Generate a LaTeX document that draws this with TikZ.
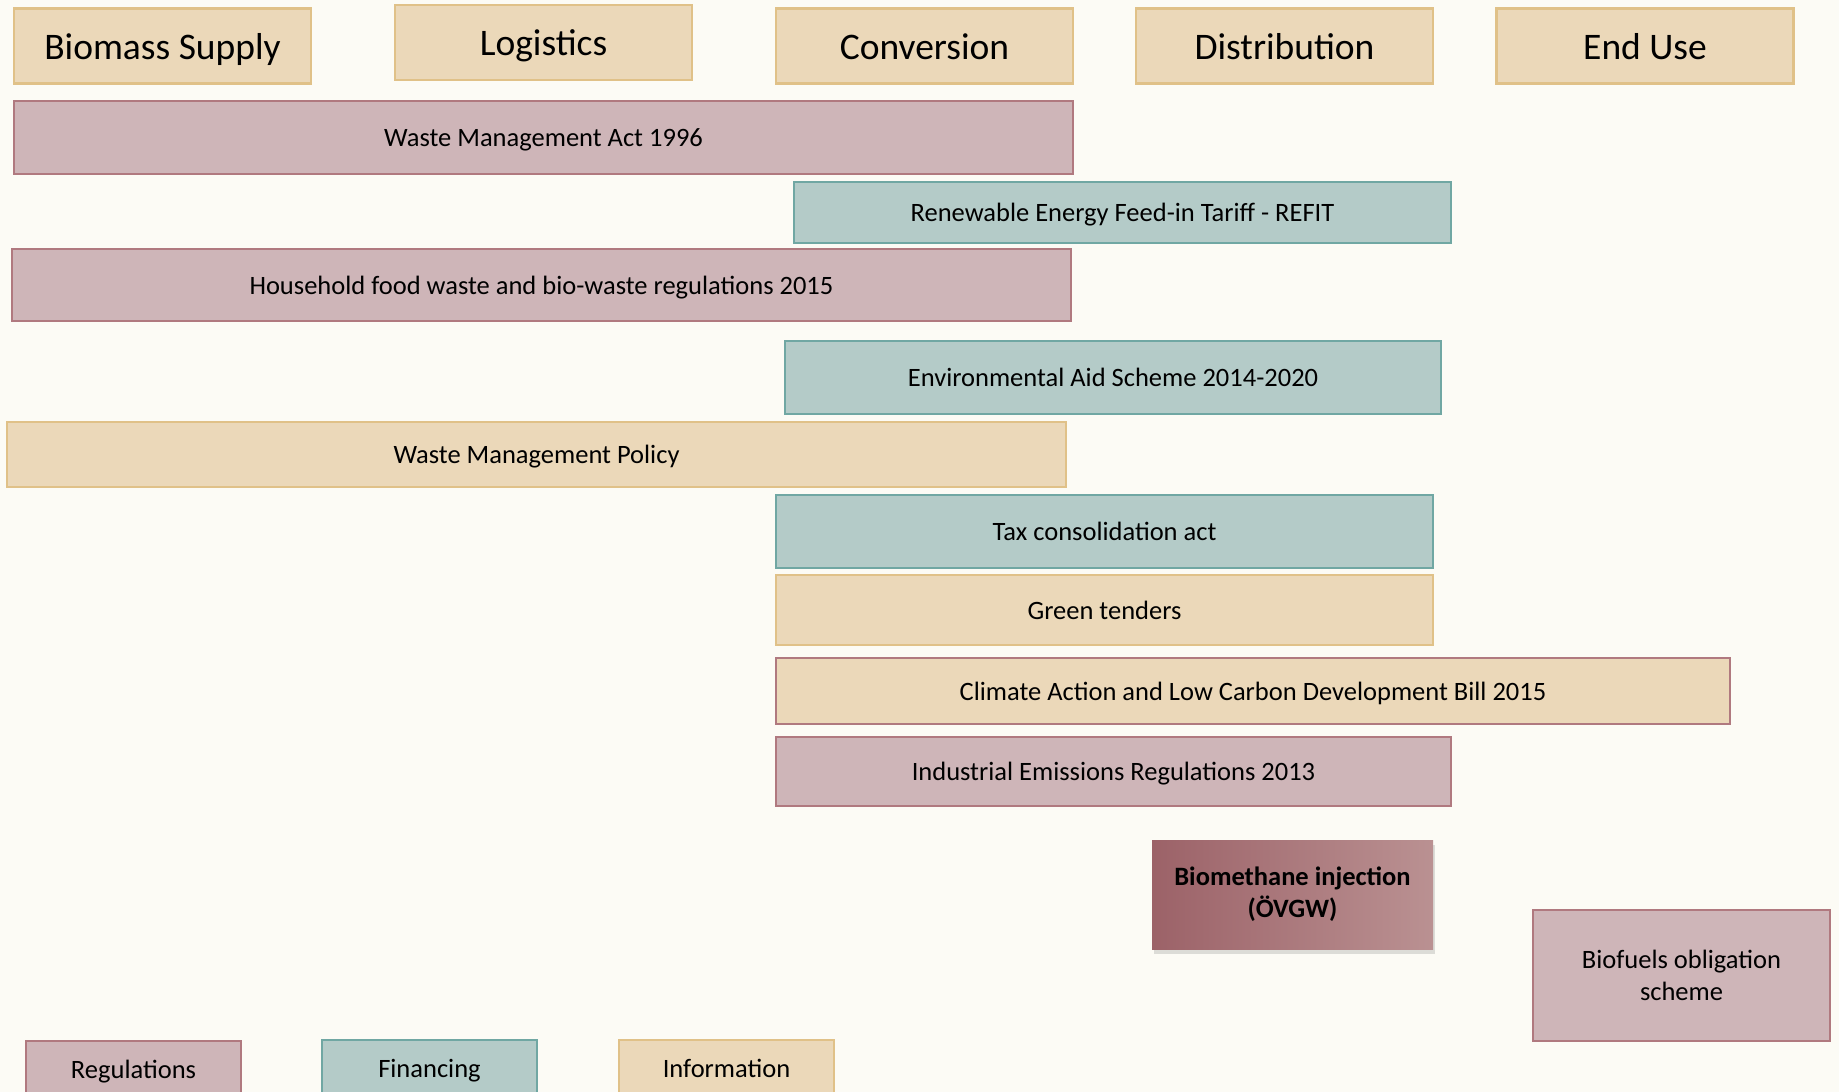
\documentclass[tikz,border=0pt]{standalone}
\usepackage{fontspec}
\setmainfont{Carlito}
\usetikzlibrary{shadows}

\definecolor{bgcream}{HTML}{FCFBF5}
\definecolor{infofill}{HTML}{EBD8B9}
\definecolor{infoline}{HTML}{E0C188}
\definecolor{regfill}{HTML}{CEB5B8}
\definecolor{regline}{HTML}{B0797F}
\definecolor{finfill}{HTML}{B4CBC8}
\definecolor{finline}{HTML}{70A7A3}
\definecolor{bmleft}{HTML}{9C6268}
\definecolor{bmright}{HTML}{BA9192}

\tikzset{
  box/.style={draw, rectangle, inner sep=0pt, line width=2.5pt, align=center},
  regbox/.style={box, fill=regfill, draw=regline},
  finbox/.style={box, fill=finfill, draw=finline},
  infobox/.style={box, fill=infofill, draw=infoline},
  boxsize/.style 2 args={minimum width=#1pt, minimum height=#2pt},
  hdrbox/.style={infobox, boxsize={297}{75}, font=\fontsize{37.5}{44}\selectfont,
                 text height=32.5pt, text depth=6pt},
  twoline/.style={font=\fontsize{26.5}{32}\selectfont},
  bartext/.style={twoline, text height=22pt, text depth=3.5pt},
  keytext/.style={bartext, boxsize={215}{56}},
}

\begin{document}
\begin{tikzpicture}[x=1pt,y=1pt,yscale=-1]
    % background, sets picture at 1839 x 1092
    \path[use as bounding box, fill=bgcream] (0,0) rectangle (1839,1092);
    \clip (0,0) rectangle (1839,1092);

    % Header Nodes
    \node[hdrbox] (supply) at (162.5,45.8) {Biomass Supply};
    \node[hdrbox] (logistics) at (543.5,42.3) {Logistics};
    \node[hdrbox] (conversion) at (924.5,45.8) {Conversion};
    \node[hdrbox] (distribution) at (1284.5,45.8) {Distribution};
    \node[hdrbox] (enduse) at (1645,45.8) {End Use};

    % Policy Bars
    \node[regbox, bartext, boxsize={1059}{73}] (wmact) at (543.5,137.5) {Waste Management Act 1996};
    \node[finbox, bartext, boxsize={657}{61}] (refit) at (1122.5,212.5) {Renewable Energy Feed-in Tariff - REFIT};
    \node[regbox, bartext, boxsize={1059}{72}] (foodwaste) at (541.5,285) {Household food waste and bio-waste regulations 2015};
    \node[finbox, bartext, boxsize={656}{73}] (envaid) at (1113,377.5) {Environmental Aid Scheme 2014-2020};
    \node[infobox, bartext, boxsize={1059}{65}] (wmpolicy) at (536.5,454.5) {Waste Management Policy};
    \node[finbox, bartext, boxsize={657}{73}] (taxact) at (1104.5,531.5) {Tax consolidation act};
    \node[infobox, bartext, boxsize={657}{70}] (tenders) at (1104.5,610) {Green tenders};
    \node[infobox, draw=regline, bartext, boxsize={954}{66}] (climate) at (1253,691) {Climate Action and Low Carbon Development Bill 2015};
    \node[regbox, bartext, boxsize={675}{69}] (emissions) at (1113.5,771.5) {Industrial Emissions Regulations 2013};

    % Biomethane Box
    \node[box, draw=none, left color=bmleft, right color=bmright, boxsize={281}{109},
          drop shadow={opacity=0.25, shadow xshift=2pt, shadow yshift=-5pt},
          font=\fontsize{26.5}{32}\selectfont\bfseries] (biomethane) at (1292.5,894.5) {Biomethane injection\\(ÖVGW)};
    \node[regbox, twoline, boxsize={297}{131}] (biofuels) at (1681.5,975.5) {Biofuels obligation\\scheme};

    % Key
    \node[regbox, keytext] (keyreg) at (133.5,1069) {Regulations};
    \node[finbox, keytext] (keyfin) at (429.5,1068) {Financing};
    \node[infobox, keytext] (keyinfo) at (726.5,1068) {Information};

\end{tikzpicture}
\end{document}
